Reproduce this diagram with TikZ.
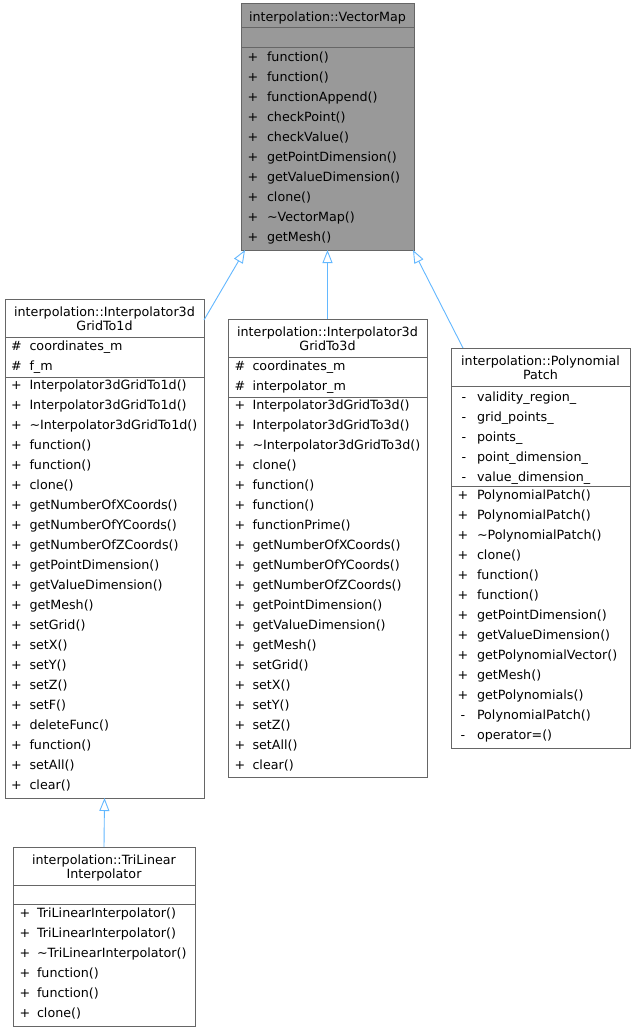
\documentclass[tikz,border=0pt]{standalone}
\usepackage{fontspec}
\setmainfont{DejaVu Sans}
\usetikzlibrary{arrows.meta}
\definecolor{boxgray}{HTML}{666666}
\definecolor{fillgray}{HTML}{999999}
\definecolor{edgeblue}{HTML}{63B8FF}
\begin{document}
\begin{tikzpicture}[x=1pt,y=-1pt,
  cbox/.style={draw=boxgray, line width=1pt, rectangle, inner sep=0pt, outer sep=0pt, anchor=north west},
  sepline/.style={draw=boxgray, line width=1pt},
  txt/.style={inner sep=0pt, outer sep=0pt, font=\fontsize{12.7}{14.7}\selectfont, text=black},
  ttl/.style={txt, anchor=base},
  sym/.style={txt, anchor=base},
  mem/.style={txt, anchor=base west},
  inh/.style={draw=edgeblue, line width=0.9pt, -{Triangle[open, length=13pt, width=10pt]}}
]
\fill[white] (0,0) rectangle (635,1032);
\useasboundingbox (0,0) rectangle (635,1032);

% VectorMap
\node[cbox, fill=fillgray, minimum width=173pt, minimum height=246pt] (vm) at (241,4) {};
\node[ttl] (vmt) at (327.5,21.7) {interpolation::VectorMap};
\draw[sepline] (241,28) -- (414,28);
\draw[sepline] (241,48) -- (414,48);
\foreach \t [count=\i from 0] in {function(),function(),functionAppend(),checkPoint(),checkValue(),getPointDimension(),getValueDimension(),clone(),\textasciitilde VectorMap(),getMesh()}{
  \node[sym] (vms\i) at (253,61.7+20*\i) {+};
  \node[mem] (vmm\i) at (267,61.7+20*\i) {\t};
}

% Interpolator3dGridTo1d
\node[cbox, fill=white, minimum width=199pt, minimum height=499pt] (ga) at (5,299) {};
\node[ttl] (gat1) at (104.5,316) {interpolation::Interpolator3d};
\node[ttl] (gat2) at (104.5,330.7) {GridTo1d};
\draw[sepline] (5,337) -- (204,337);
\draw[sepline] (5,377) -- (204,377);
\foreach \t [count=\i from 0] in {coordinates\_m,f\_m}{
  \node[sym] (gaas\i) at (16.5,350.7+20*\i) {\#};
  \node[mem] (gaa\i) at (29.5,350.7+20*\i) {\t};
}
\foreach \t [count=\i from 0] in {Interpolator3dGridTo1d(),Interpolator3dGridTo1d(),\textasciitilde Interpolator3dGridTo1d(),function(),function(),clone(),getNumberOfXCoords(),getNumberOfYCoords(),getNumberOfZCoords(),getPointDimension(),getValueDimension(),getMesh(),setGrid(),setX(),setY(),setZ(),setF(),deleteFunc(),function(),setAll(),clear()}{
  \node[sym] (gams\i) at (16.5,389.7+20*\i) {+};
  \node[mem] (gam\i) at (29.5,389.7+20*\i) {\t};
}

% Interpolator3dGridTo3d
\node[cbox, fill=white, minimum width=199pt, minimum height=458pt] (gb) at (228,319) {};
\node[ttl] (gbt1) at (327.5,336) {interpolation::Interpolator3d};
\node[ttl] (gbt2) at (327.5,350.7) {GridTo3d};
\draw[sepline] (228,357) -- (427,357);
\draw[sepline] (228,397) -- (427,397);
\foreach \t [count=\i from 0] in {coordinates\_m,interpolator\_m}{
  \node[sym] (gbas\i) at (240,370.7+20*\i) {\#};
  \node[mem] (gba\i) at (252.5,370.7+20*\i) {\t};
}
\foreach \t [count=\i from 0] in {Interpolator3dGridTo3d(),Interpolator3dGridTo3d(),\textasciitilde Interpolator3dGridTo3d(),clone(),function(),function(),functionPrime(),getNumberOfXCoords(),getNumberOfYCoords(),getNumberOfZCoords(),getPointDimension(),getValueDimension(),getMesh(),setGrid(),setX(),setY(),setZ(),setAll(),clear()}{
  \node[sym] (gbms\i) at (240,409.7+20*\i) {+};
  \node[mem] (gbm\i) at (252.5,409.7+20*\i) {\t};
}

% PolynomialPatch
\node[cbox, fill=white, minimum width=179pt, minimum height=400pt] (pp) at (451,348) {};
\node[ttl] (ppt1) at (540.5,365) {interpolation::Polynomial};
\node[ttl] (ppt2) at (540.5,379.7) {Patch};
\draw[sepline] (451,386) -- (630,386);
\draw[sepline] (451,486) -- (630,486);
\foreach \t [count=\i from 0] in {validity\_region\_,grid\_points\_,points\_,point\_dimension\_,value\_dimension\_}{
  \node[sym] (ppas\i) at (464,401.2+20*\i) {-};
  \node[mem] (ppa\i) at (477,401.2+20*\i) {\t};
}
\foreach \s/\t [count=\i from 0] in {+/PolynomialPatch(),+/PolynomialPatch(),+/\textasciitilde PolynomialPatch(),+/clone(),+/function(),+/function(),+/getPointDimension(),+/getValueDimension(),+/getPolynomialVector(),+/getMesh(),+/getPolynomials(),-/PolynomialPatch(),-/operator=()}{
  \node[sym] (ppms\i) at (463,499.7+20*\i) {\s};
  \node[mem] (ppm\i) at (477,499.7+20*\i) {\t};
}

% TriLinearInterpolator
\node[cbox, fill=white, minimum width=182pt, minimum height=179pt] (tri) at (13,847) {};
\node[ttl] (trit1) at (104,864) {interpolation::TriLinear};
\node[ttl] (trit2) at (104,878.7) {Interpolator};
\draw[sepline] (13,885) -- (195,885);
\draw[sepline] (13,904) -- (195,904);
\foreach \t [count=\i from 0] in {TriLinearInterpolator(),TriLinearInterpolator(),\textasciitilde TriLinearInterpolator(),function(),function(),clone()}{
  \node[sym] (trims\i) at (25,917.7+20*\i) {+};
  \node[mem] (trim\i) at (37,917.7+20*\i) {\t};
}

% inheritance
\draw[inh] ([yshift=-21pt]ga.north east) -- ([xshift=4pt]vm.south west);
\draw[inh] (gb.north) -- (vm.south);
\draw[inh] ([xshift=12pt]pp.north west) -- ([xshift=-1pt]vm.south east);
\draw[inh] (tri.north) -- (ga.south);
\end{tikzpicture}
\end{document}
